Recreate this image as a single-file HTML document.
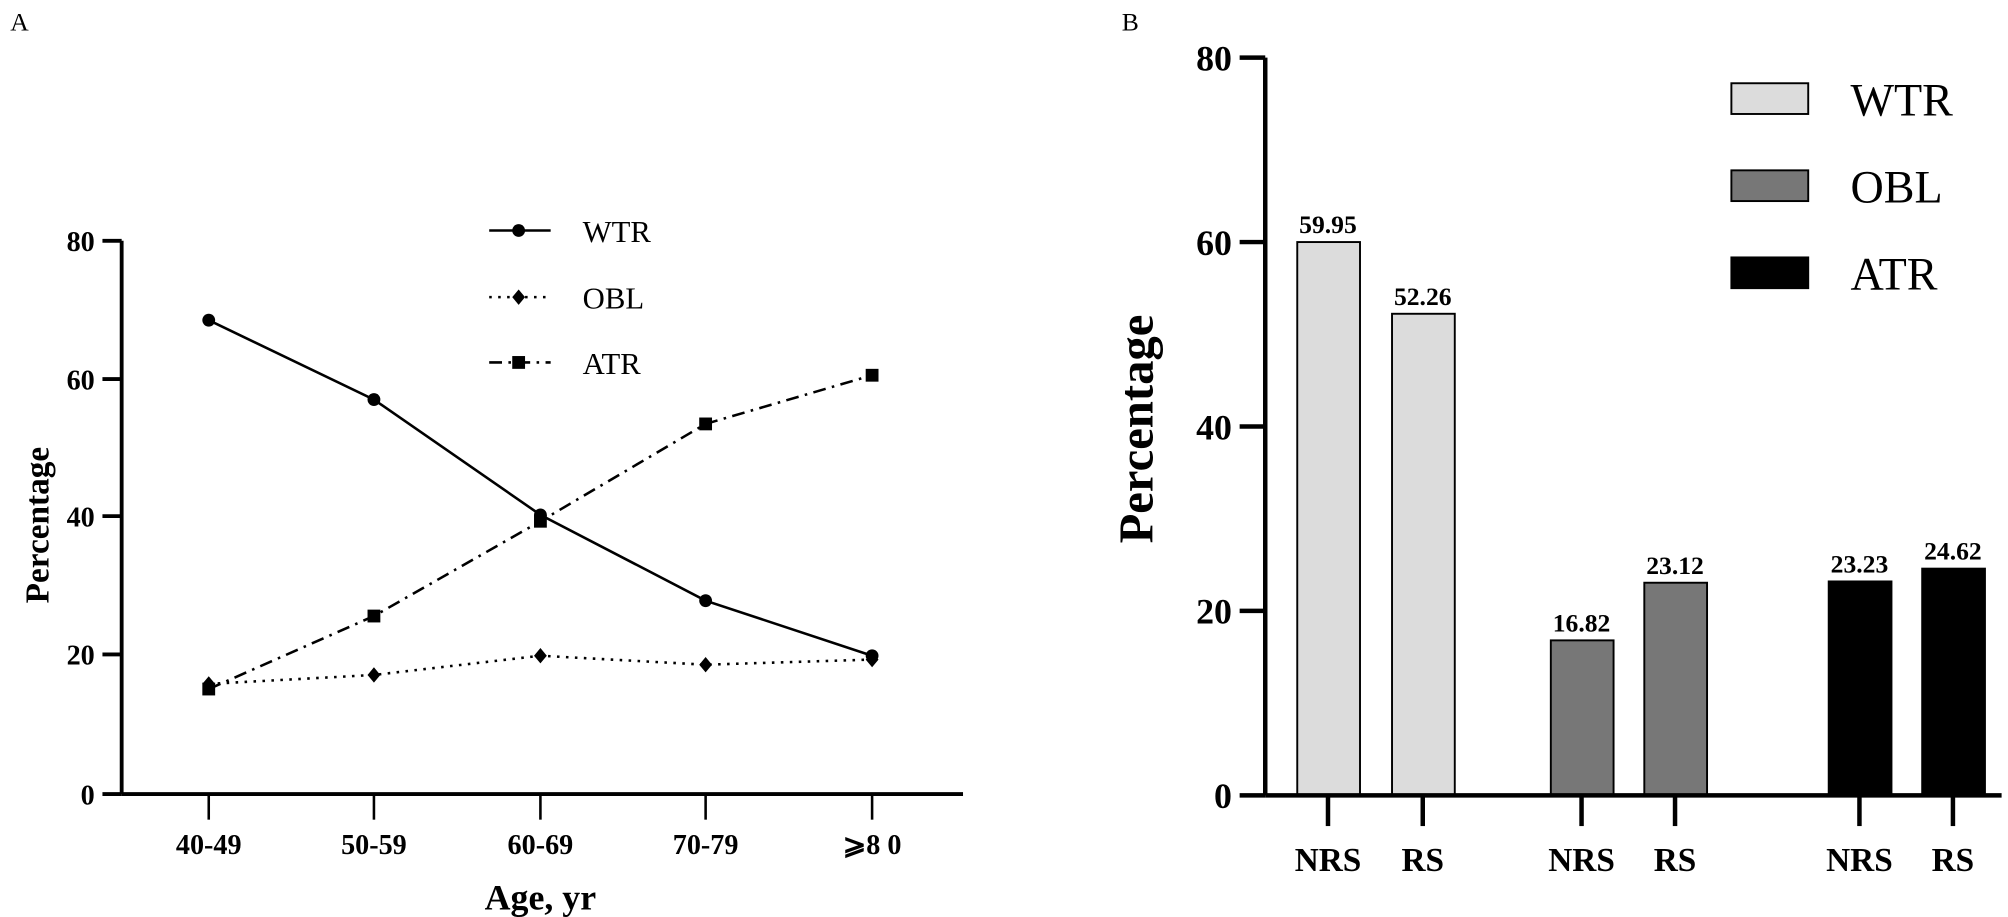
<!DOCTYPE html>
<html><head><style>body{margin:0;background:#fff}</style></head><body>
<svg width="2008" height="917" viewBox="0 0 1568 716" preserveAspectRatio="none" xmlns="http://www.w3.org/2000/svg" font-family="Liberation Serif, serif" style="display:block">
<text x="8" y="24" font-size="20">A</text>
<text x="876" y="24" font-size="20">B</text>
<!-- Left chart -->
<g stroke="#000" stroke-width="3" fill="none">
<line x1="95" y1="188" x2="95" y2="620"/>
<line x1="80" y1="188" x2="95" y2="188"/><line x1="80" y1="296" x2="95" y2="296"/><line x1="80" y1="403" x2="95" y2="403"/><line x1="80" y1="511" x2="95" y2="511"/><line x1="80" y1="620" x2="95" y2="620"/>
<line x1="95" y1="620" x2="752" y2="620"/>
</g>
<g stroke="#000" stroke-width="2">
<line x1="163" y1="620" x2="163" y2="640"/><line x1="292" y1="620" x2="292" y2="640"/><line x1="422" y1="620" x2="422" y2="640"/><line x1="551" y1="620" x2="551" y2="640"/><line x1="681" y1="620" x2="681" y2="640"/>
</g>
<g font-size="22" font-weight="bold" text-anchor="end">
<text x="74" y="196">80</text><text x="74" y="304">60</text><text x="74" y="411">40</text><text x="74" y="519">20</text><text x="74" y="628">0</text>
</g>
<g font-size="22" font-weight="bold" text-anchor="middle">
<text x="163" y="667">40-49</text><text x="292" y="667">50-59</text><text x="422" y="667">60-69</text><text x="551" y="667">70-79</text><text x="681" y="667">⩾8 0</text>
</g>
<text x="422" y="710" font-size="28" font-weight="bold" text-anchor="middle">Age, yr</text>
<text transform="translate(38,410) rotate(-90)" font-size="26" font-weight="bold" text-anchor="middle">Percentage</text>
<polyline points="163,250 292,312 422,402 551,469 681,512" fill="none" stroke="#000" stroke-width="2"/>
<polyline points="163,534 292,527 422,512 551,519 681,515" fill="none" stroke="#000" stroke-width="2" stroke-dasharray="2,5"/>
<polyline points="163,538 292,481 422,407 551,331 681,293" fill="none" stroke="#000" stroke-width="2" stroke-dasharray="10,5,2,5"/>
<g fill="#000">
<circle cx="163" cy="250" r="5"/><circle cx="292" cy="312" r="5"/><circle cx="422" cy="402" r="5"/><circle cx="551" cy="469" r="5"/><circle cx="681" cy="512" r="5"/>
<path d="M163,528 l5,6 l-5,6 l-5,-6z M292,521 l5,6 l-5,6 l-5,-6z M422,506 l5,6 l-5,6 l-5,-6z M551,513 l5,6 l-5,6 l-5,-6z M681,509 l5,6 l-5,6 l-5,-6z"/>
<rect x="158" y="533" width="10" height="10"/><rect x="287" y="476" width="10" height="10"/><rect x="417" y="402" width="10" height="10"/><rect x="546" y="326" width="10" height="10"/><rect x="676" y="288" width="10" height="10"/>
</g>
<line x1="382" y1="180" x2="430" y2="180" stroke="#000" stroke-width="2"/><circle cx="405" cy="180" r="5"/>
<line x1="382" y1="232" x2="430" y2="232" stroke="#000" stroke-width="2" stroke-dasharray="2,5"/><path d="M405,226 l5,6 l-5,6 l-5,-6z"/>
<line x1="382" y1="283" x2="430" y2="283" stroke="#000" stroke-width="2" stroke-dasharray="10,5,2,5"/><rect x="400" y="278" width="10" height="10"/>
<g font-size="24"><text x="455" y="189">WTR</text><text x="455" y="241">OBL</text><text x="455" y="292">ATR</text></g>
<!-- Right chart -->
<g stroke="#000" stroke-width="1.5">
<rect x="1013" y="189" width="49" height="432" fill="#dcdcdc"/>
<rect x="1087" y="245" width="49" height="376" fill="#dcdcdc"/>
<rect x="1211" y="500" width="49" height="121" fill="#777"/>
<rect x="1284" y="455" width="49" height="166" fill="#777"/>
<rect x="1428" y="454" width="49" height="167" fill="#000"/>
<rect x="1501" y="444" width="49" height="177" fill="#000"/>
<rect x="1352" y="65" width="60" height="24" fill="#dcdcdc"/>
<rect x="1352" y="133" width="60" height="24" fill="#777"/>
<rect x="1352" y="201" width="60" height="24" fill="#000"/>
</g>
<g stroke="#000" stroke-width="3.5" fill="none">
<line x1="988" y1="45" x2="988" y2="621"/>
<line x1="988" y1="621" x2="1563" y2="621"/>
<line x1="968" y1="45" x2="988" y2="45"/><line x1="968" y1="189" x2="988" y2="189"/><line x1="968" y1="333" x2="988" y2="333"/><line x1="968" y1="477" x2="988" y2="477"/><line x1="968" y1="621" x2="988" y2="621"/>
<line x1="1037" y1="621" x2="1037" y2="645"/><line x1="1111" y1="621" x2="1111" y2="645"/><line x1="1235" y1="621" x2="1235" y2="645"/><line x1="1308" y1="621" x2="1308" y2="645"/><line x1="1452" y1="621" x2="1452" y2="645"/><line x1="1525" y1="621" x2="1525" y2="645"/>
</g>
<g font-size="28" font-weight="bold" text-anchor="end">
<text x="962" y="55">80</text><text x="962" y="199">60</text><text x="962" y="343">40</text><text x="962" y="487">20</text><text x="962" y="631">0</text>
</g>
<text transform="translate(900,335) rotate(-90)" font-size="38" font-weight="bold" text-anchor="middle">Percentage</text>
<g font-size="20" font-weight="bold" text-anchor="middle">
<text x="1037" y="182">59.95</text><text x="1111" y="238">52.26</text><text x="1235" y="493">16.82</text><text x="1308" y="448">23.12</text><text x="1452" y="447">23.23</text><text x="1525" y="437">24.62</text>
</g>
<g font-size="26" font-weight="bold" text-anchor="middle">
<text x="1037" y="680">NRS</text><text x="1111" y="680">RS</text><text x="1235" y="680">NRS</text><text x="1308" y="680">RS</text><text x="1452" y="680">NRS</text><text x="1525" y="680">RS</text>
</g>
<g font-size="36"><text x="1445" y="90">WTR</text><text x="1445" y="158">OBL</text><text x="1445" y="226">ATR</text></g>
</svg>
</body></html>
